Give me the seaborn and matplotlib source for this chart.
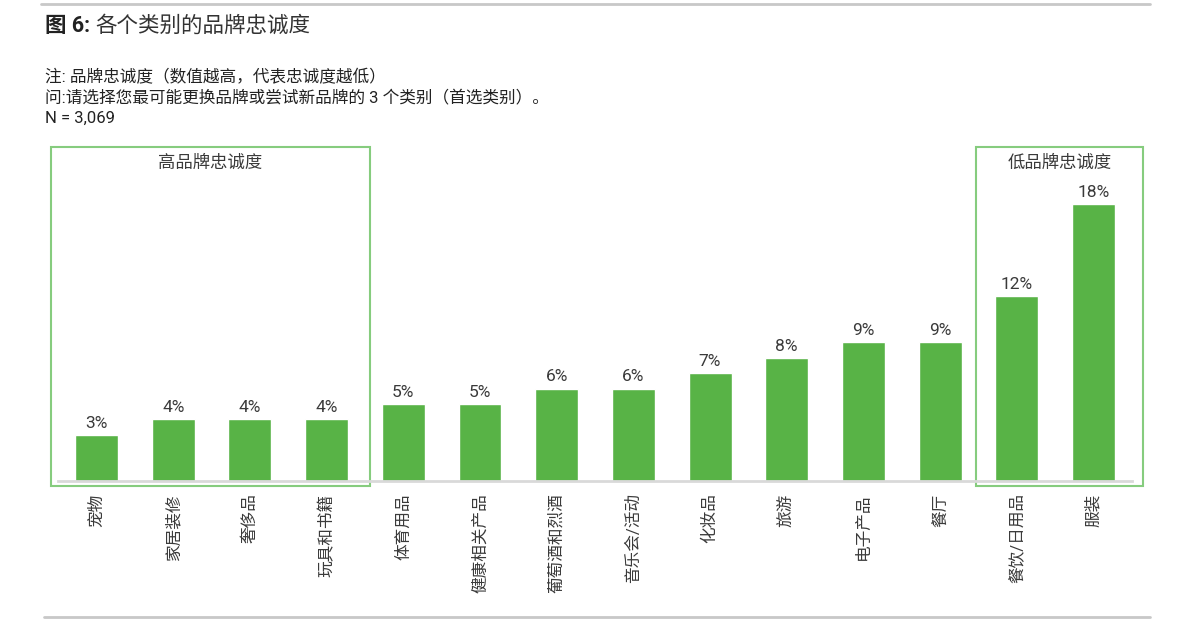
import pandas as pd
import seaborn as sns
import matplotlib.pyplot as plt
from matplotlib.patches import Rectangle
from matplotlib.lines import Line2D

categories = ["宠物", "家居装修", "奢侈品", "玩具和书籍", "体育用品", "健康相关产品",
              "葡萄酒和烈酒", "音乐会/活动", "化妆品", "旅游", "电子产品", "餐厅",
              "餐饮/日用品", "服装"]
values = [3, 4, 4, 4, 5, 5, 6, 6, 7, 8, 9, 9, 12, 18]

title_bold = "图 6:"
title_rest = "各个类别的品牌忠诚度"
notes = ["注: 品牌忠诚度（数值越高，代表忠诚度越低）",
         "问:请选择您最可能更换品牌或尝试新品牌的 3 个类别（首选类别）。",
         "N = 3,069"]
groups = [("高品牌忠诚度", 0, 3), ("低品牌忠诚度", 12, 13)]

sns.set_theme(style="white")
plt.rcParams["font.family"] = ["Roboto", "Noto Sans CJK SC", "DejaVu Sans"]

bar_green = "#58b346"
box_green = "#86cc7e"
text_col = "#3a3a3a"

df = pd.DataFrame({"category": categories, "value": values})

fig = plt.figure(figsize=(12, 6.2), dpi=100)
ax = fig.add_axes([0.0485, 0.2242, 0.8947, 0.4968])
sns.barplot(df, x="category", y="value", color=bar_green, width=0.56,
            saturation=1, ax=ax)
ax.bar_label(ax.containers[0], fmt="{:.0f}%", padding=3, fontsize=12.5,
             color=text_col)

ax.set_xlim(-0.5, len(categories) - 0.5)
ax.set_ylim(0, 20)
ax.set_xlabel("")
ax.set_ylabel("")
ax.set_yticks([])
for s in ["top", "left", "right"]:
    ax.spines[s].set_visible(False)
ax.spines["bottom"].set_color("#d9d9d9")
ax.spines["bottom"].set_linewidth(2)
ax.tick_params(axis="x", length=0, pad=9, labelsize=12, labelcolor=text_col)
for lbl in ax.get_xticklabels():
    lbl.set_rotation(90)
    lbl.set_va("top")

# group boxes (left/right padding around the grouped bars)
box_pads = [(0.6, 0.56), (0.53, 0.65)]
for (name, i0, i1), (pl, pr) in zip(groups, box_pads):
    rect = Rectangle((i0 - pl, -0.32), (i1 - i0) + pl + pr, 22.0,
                     fill=False, edgecolor=box_green, linewidth=1.5,
                     clip_on=False, zorder=0)
    ax.add_patch(rect)
    ax.text((i0 - pl + i1 + pr) / 2, 20.7, name, ha="center", va="center",
            fontsize=12.5, color=text_col, clip_on=False)

# header
t1 = fig.text(0.0375, 0.958, title_bold, fontsize=15.5, fontweight="bold",
              color="#222222", va="center")
fig.canvas.draw()
bb = t1.get_window_extent()
fig.text(bb.x1 / fig.bbox.width + 0.004, 0.958, title_rest, fontsize=15.5,
         color="#333333", va="center")
for k, line in enumerate(notes):
    fig.text(0.0375, 0.876 - k * 0.0335, line, fontsize=12, color="#222222",
             va="center")

fig.add_artist(Line2D([0.034, 0.958], [0.9935, 0.9935], color="#c8c8c8",
                      lw=2, transform=fig.transFigure))
fig.add_artist(Line2D([0.037, 0.958], [0.005, 0.005], color="#c8c8c8",
                      lw=2, transform=fig.transFigure))

fig.savefig("out.png", dpi=100)
